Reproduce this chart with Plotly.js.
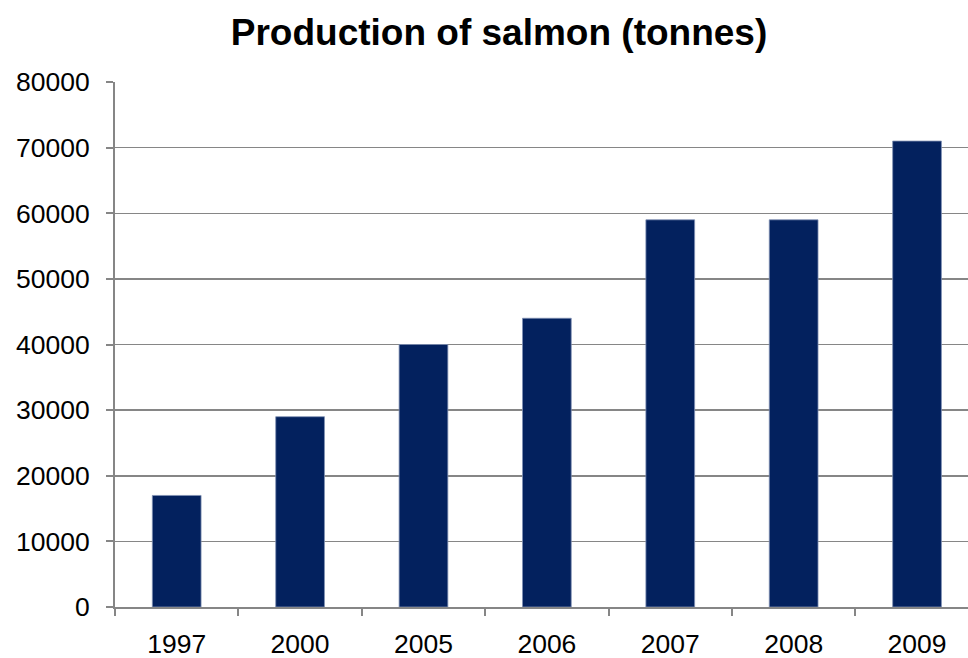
<!DOCTYPE html>
<html>
<head>
<meta charset="utf-8">
<script src="https://cdn.plot.ly/plotly-3.0.1.min.js"></script>
<style>html,body{margin:0;padding:0;background:#fff;}#chart{width:968px;height:658px;}</style>
</head>
<body>
<div id="chart"></div>
<script>
const years = ["1997", "2000", "2005", "2006", "2007", "2008", "2009"];
const production = [17000, 29000, 40000, 44000, 59000, 59000, 71000];
const yTicks = [0, 10000, 20000, 30000, 40000, 50000, 60000, 70000, 80000];

const trace = {
  type: "bar",
  x: years,
  y: production,
  width: 0.395,
  marker: { color: "#03215E", line: { color: "#8090B4", width: 0.8 } },
  hoverinfo: "none"
};

const layout = {
  width: 968,
  height: 658,
  margin: { l: 115, r: 0, t: 82, b: 51 },
  paper_bgcolor: "#ffffff",
  plot_bgcolor: "#ffffff",
  font: { family: "Liberation Sans, Arial, sans-serif", color: "#000000", size: 26.5 },
  title: {
    text: "<b>Production of salmon (tonnes)</b>",
    font: { family: "Liberation Sans, Arial, sans-serif", size: 37, color: "#000000" },
    xref: "container", yref: "container",
    x: 499 / 968, xanchor: "center",
    y: 1 - 32 / 658, yanchor: "middle"
  },
  showlegend: false,
  xaxis: {
    type: "category",
    range: [-0.5, 6.413],
    showline: true, linecolor: "#868686", linewidth: 2,
    ticks: "outside", tickson: "boundaries", ticklen: 7, tickcolor: "#868686", tickwidth: 2,
    showgrid: false, zeroline: false,
    ticklabelstandoff: 12,
    tickfont: { size: 26.5 }
  },
  yaxis: {
    range: [0, 80000],
    tickvals: yTicks,
    ticktext: yTicks.map(String),
    showline: true, linecolor: "#868686", linewidth: 2,
    ticks: "outside", ticklen: 7, tickcolor: "#868686", tickwidth: 2,
    showgrid: true, gridcolor: "#868686", gridwidth: 1.5,
    zeroline: false,
    ticklabelstandoff: 11,
    tickfont: { size: 26.5 }
  },
  bargap: 0.6
};

Plotly.newPlot("chart", [trace], layout, { displayModeBar: false, staticPlot: true });
</script>
</body>
</html>
